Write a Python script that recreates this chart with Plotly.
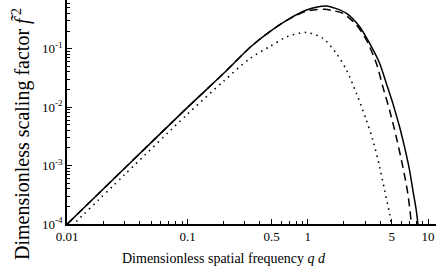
import plotly.graph_objects as go

# Solid curve
q_solid = [0.01, 0.03, 0.1, 0.2, 0.33, 0.48, 0.71, 0.975, 1.2, 1.43, 1.7, 2.1, 2.7, 3.27,
           3.96, 4.5, 5.1, 5.8, 6.38, 7.02, 7.48, 7.98, 8.23, 8.4]
f_solid = [1.0e-4, 9.0e-4, 0.0099, 0.038, 0.105, 0.195, 0.331, 0.459, 0.52, 0.538, 0.49,
           0.403, 0.238, 0.123, 0.056, 0.0254, 0.0115, 0.00457, 0.00207, 0.00083, 0.000376,
           0.000171, 0.0001, 0.00005]

# Dashed curve
q_dash = [0.01, 0.03, 0.1, 0.2, 0.33, 0.48, 0.71, 0.975, 1.2, 1.38, 1.6, 1.96, 2.54, 3.07,
          3.72, 4.21, 4.79, 5.44, 6.18, 6.79, 7.24, 7.4]
f_dash = [1.0e-4, 9.0e-4, 0.0099, 0.038, 0.105, 0.195, 0.328, 0.44, 0.47, 0.472, 0.45,
          0.403, 0.254, 0.141, 0.056, 0.0222, 0.00885, 0.00308, 0.00094, 0.00033, 0.000107,
          0.00005]

# Dotted curve
q_dot = [0.01, 0.03, 0.1, 0.2, 0.33, 0.48, 0.67, 0.97, 1.34, 1.73, 2.1, 2.54, 3.07, 3.48,
         3.96, 4.35, 4.79, 4.94, 5.05]
f_dot = [0.78e-4, 7.0e-4, 0.0076, 0.028, 0.068, 0.108, 0.16, 0.19, 0.15, 0.083, 0.043,
         0.0171, 0.006, 0.0027, 0.00094, 0.00038, 0.00015, 0.0001, 0.00006]

x_tickvals = [0.01, 0.1, 0.5, 1, 5, 10]
x_ticktext = ["0.01", "0.1", "0.5", "1", "5", "10"]
y_tickvals = [1e-4, 1e-3, 1e-2, 1e-1]
y_ticktext = ["10<sup>-4</sup>", "10<sup>-3</sup>", "10<sup>-2</sup>", "10<sup>-1</sup>"]

x_minor = [m * 10 ** e for e in (-2, -1, 0, 1) for m in range(2, 10)]
y_minor = [m * 10 ** e for e in (-4, -3, -2, -1) for m in range(2, 10)]

FONT = "Liberation Serif"

fig = go.Figure()
fig.add_trace(go.Scatter(x=q_solid, y=f_solid, mode="lines",
                         line=dict(color="black", width=1.5, shape="spline", smoothing=0.8)))
fig.add_trace(go.Scatter(x=q_dash, y=f_dash, mode="lines",
                         line=dict(color="black", width=1.5, dash="8px,5px", shape="spline", smoothing=0.8)))
fig.add_trace(go.Scatter(x=q_dot, y=f_dot, mode="lines",
                         line=dict(color="black", width=1.6, dash="1.5px,4.5px", shape="spline", smoothing=0.8)))

fig.update_layout(
    width=436, height=268,
    margin=dict(l=67, r=0, t=0, b=44, autoexpand=False),
    plot_bgcolor="white", paper_bgcolor="white",
    showlegend=False,
    font=dict(family=FONT, size=13, color="black"),
)
fig.update_xaxes(
    type="log", range=[-2.002, 1.066], automargin=False,
    tickvals=x_tickvals, ticktext=x_ticktext,
    ticks="inside", ticklen=5, tickwidth=1, tickcolor="black",
    minor=dict(tickvals=x_minor, ticks="inside", ticklen=3, tickcolor="black", showgrid=False),
    showline=True, linecolor="black", linewidth=1.5,
    showgrid=False, zeroline=False,
    tickfont=dict(family=FONT, size=13),
)
fig.update_yaxes(
    type="log", range=[-4.0, -0.166], automargin=False,
    tickvals=y_tickvals, ticktext=y_ticktext,
    ticks="inside", ticklen=5, tickwidth=1, tickcolor="black",
    minor=dict(tickvals=y_minor, ticks="inside", ticklen=3, tickcolor="black", showgrid=False),
    showline=True, linecolor="black", linewidth=1.5,
    showgrid=False, zeroline=False,
    tickfont=dict(family=FONT, size=13),
)

fig.add_annotation(
    text="Dimensionless spatial frequency <i>q d</i>",
    xref="paper", yref="paper", x=(224 - 67) / (436 - 67), y=-34 / 224,
    xanchor="center", yanchor="middle", showarrow=False,
    font=dict(family=FONT, size=14, color="black"),
)
fig.add_annotation(
    text="Dimensionless scaling factor <i>f\u0303</i><sup> 2</sup>",
    xref="paper", yref="paper", x=-46 / 369, y=(224 - 134) / 224,
    xanchor="center", yanchor="middle", textangle=-90, showarrow=False,
    font=dict(family=FONT, size=20, color="black"),
)

fig.write_html("out.html", config={"displayModeBar": False},
               post_script="document.body.style.margin='0';document.body.style.overflow='hidden';")
